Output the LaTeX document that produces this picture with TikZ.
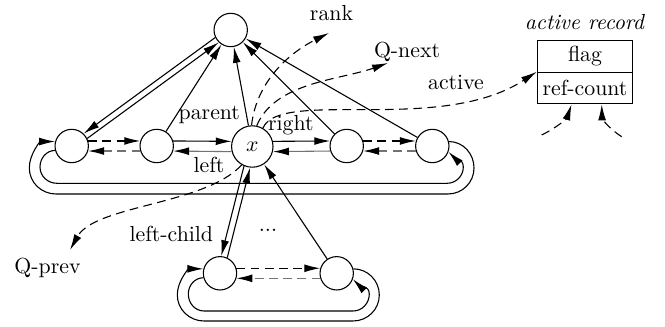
\documentclass[tikz,border=0pt]{standalone}
\usetikzlibrary{arrows.meta,calc}
\begin{document}
\begin{tikzpicture}[x=0.4587pt,y=-0.4587pt,line width=0.5pt,
  >={Latex[length=7.3pt,width=3.6pt]},
  nd/.style={draw,circle,minimum size=15.3pt,inner sep=0pt},
  xnd/.style={draw,circle,minimum size=19pt,inner sep=0pt},
  dsh/.style={dash pattern=on 4pt off 2.5pt},
  back/.style={draw=black!55,-{Latex[length=7.3pt,width=3.6pt,color=black]}},
  lbl/.style={anchor=base,inner sep=0pt},
  field/.style={draw,minimum width=43.8pt,minimum height=14.5pt,inner sep=0pt}
]
\useasboundingbox (0,0) rectangle (665,327);

% nodes
\node[nd] (top) at (230.7,30) {};
\node[nd] (n1) at (71.7,146) {};
\node[nd] (n2) at (156.7,146) {};
\node[xnd] (x) at (252.3,146.5) {$x$};
\node[nd] (n4) at (346.7,146) {};
\node[nd] (n5) at (432.3,146) {};
\node[nd] (b1) at (220,273.3) {};
\node[nd] (b2) at (336.7,273.3) {};

% active record
\node[field] (flag) at (585,56.5) {flag};
\node[field] (rc) at (585,88.1) {ref-count};
\node[lbl] (ar) at (585,29.5) {\textit{active record}};

% labels
\node[lbl] (lrank) at (331.5,20.5) {rank};
\node[lbl] (lqnext) at (407,57.5) {Q-next};
\node[lbl] (lactive) at (456,90) {active};
\node[lbl] (lparent) at (209.3,120) {parent};
\node[lbl] (lright) at (290.8,131) {right};
\node[lbl] (lleft) at (209,172.3) {left};
\node[lbl] (llc) at (171.3,242) {left-child};
\node[lbl] (ldots) at (268,232) {...};
\node[lbl] (lqprev) at (47.5,274) {Q-prev};

% to top node
\draw[->] (top.206) -- (n1.46);
\draw[->] (n1.26) -- (top.226);
\draw[->] (n2) -- (top);
\draw[->] (x) -- (top);
\draw[->] (n4) -- (top);
\draw[->] (n5) -- (top);

% row links
\draw[->,dsh] (n1.17) -- (n2.163);
\draw[back,dsh] (n2.197) -- (n1.-17);
\draw[->] (n2.17) -- (x.166);
\draw[back] (x.194) -- (n2.-17);
\draw[->] (x.14) -- (n4.163);
\draw[back] (n4.197) -- (x.-14);
\draw[->,dsh] (n4.17) -- (n5.163);
\draw[back,dsh] (n5.197) -- (n4.-17);

\draw[->,dsh] (b1.17) -- (b2.163);
\draw[back,dsh] (b2.197) -- (b1.-17);

% children
\draw[->] (x.247) -- (b1.86);
\draw[->] (b1.65) -- (x.264);
\draw[->] (b2) -- (x);

% loops, top row
\draw[->] (n5.15) to[out=0,in=90] (474,168) to[out=-90,in=0] (448,194)
  -- (56,194) to[out=180,in=-90] (29.3,168) to[out=90,in=180] (n1.165);
\draw[->] (n1.195) to[out=180,in=90] (40,167) to[out=-90,in=180] (57,183.3)
  -- (447,183.3) to[out=0,in=-90] (463.3,167) to[out=90,in=-45] (n5.-20);

% loops, bottom row
\draw[->] (b2.15) to[out=0,in=90] (379.3,295) to[out=-90,in=0] (353,321)
  -- (204,321) to[out=180,in=-90] (177.3,295) to[out=90,in=180] (b1.165);
\draw[->] (b1.195) to[out=180,in=90] (188.3,294) to[out=-90,in=180] (204,311)
  -- (353,311) to[out=0,in=-90] (369.3,294) to[out=90,in=-45] (b2.-20);

% dashed pointers
\draw[->,dsh] (x.92) .. controls (256,85) and (285,55) .. (329,33);
\draw[->,dsh] (x.78) .. controls (275,82) and (340,80) .. (388,63);
\draw[->,dsh] (x.60) .. controls (280,88) and (440,135) .. (rc.north west);
\draw[->,dsh] (x.240) .. controls (205,205) and (95,205) .. (70,250);

\coordinate (s1) at (541.7,135);
\coordinate (s2) at (621.7,136.7);
\draw[->,dsh] (s1) .. controls (558,127) and (567,118) .. ($(rc.south)+(-13.5,0)$);
\draw[->,dsh] (s2) .. controls (608,128) and (602,118) .. ($(rc.south)+(16.7,0)$);
\end{tikzpicture}
\end{document}
